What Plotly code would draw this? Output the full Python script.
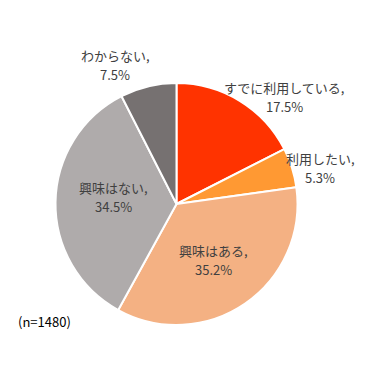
import plotly.graph_objects as go

categories = ["すでに利用している", "利用したい", "興味はある", "興味はない", "わからない"]
values = [17.5, 5.3, 35.2, 34.5, 7.5]
colors = ["#FF3300", "#FF9933", "#F4B183", "#AFABAB", "#767171"]
note = "(n=1480)"

# label centre positions in pixels (layout only)
label_pos = [(284, 87), (320, 158), (213, 250), (113, 187), (115, 55)]

W, H = 377, 374
cx, cy, r = 176.5, 204, 121

fig = go.Figure(go.Pie(
    labels=categories, values=values, sort=False, direction="clockwise",
    rotation=0, marker=dict(colors=colors, line=dict(color="white", width=2)),
    textinfo="none", hoverinfo="label+percent", showlegend=False,
    domain=dict(x=[(cx - r) / W, (cx + r) / W], y=[1 - (cy + r) / H, 1 - (cy - r) / H]),
))

font = dict(family="Noto Sans CJK JP, Meiryo, sans-serif", size=13, color="#404040")
anns = []
for cat, v, (px, py) in zip(categories, values, label_pos):
    anns.append(dict(x=px / W, y=1 - py / H, xref="paper", yref="paper", text=cat + ",",
                     showarrow=False, font=font, xanchor="center", yanchor="middle"))
    anns.append(dict(x=px / W, y=1 - (py + 19.5) / H, xref="paper", yref="paper",
                     text=f"{v:.1f}%", showarrow=False, font=font, xanchor="center", yanchor="middle"))
anns.append(dict(x=16 / W, y=1 - 321 / H, xref="paper", yref="paper", text=note, showarrow=False,
                 font=dict(family="Noto Sans CJK JP, sans-serif", size=13, color="#000000"),
                 xanchor="left", yanchor="middle"))

fig.update_layout(width=W, height=H, margin=dict(l=0, r=0, t=0, b=0),
                  paper_bgcolor="white", plot_bgcolor="white", annotations=anns)
fig.write_html("out.html", config={"displayModeBar": False},
               post_script="document.body.style.margin='0';document.body.style.overflow='hidden';")
